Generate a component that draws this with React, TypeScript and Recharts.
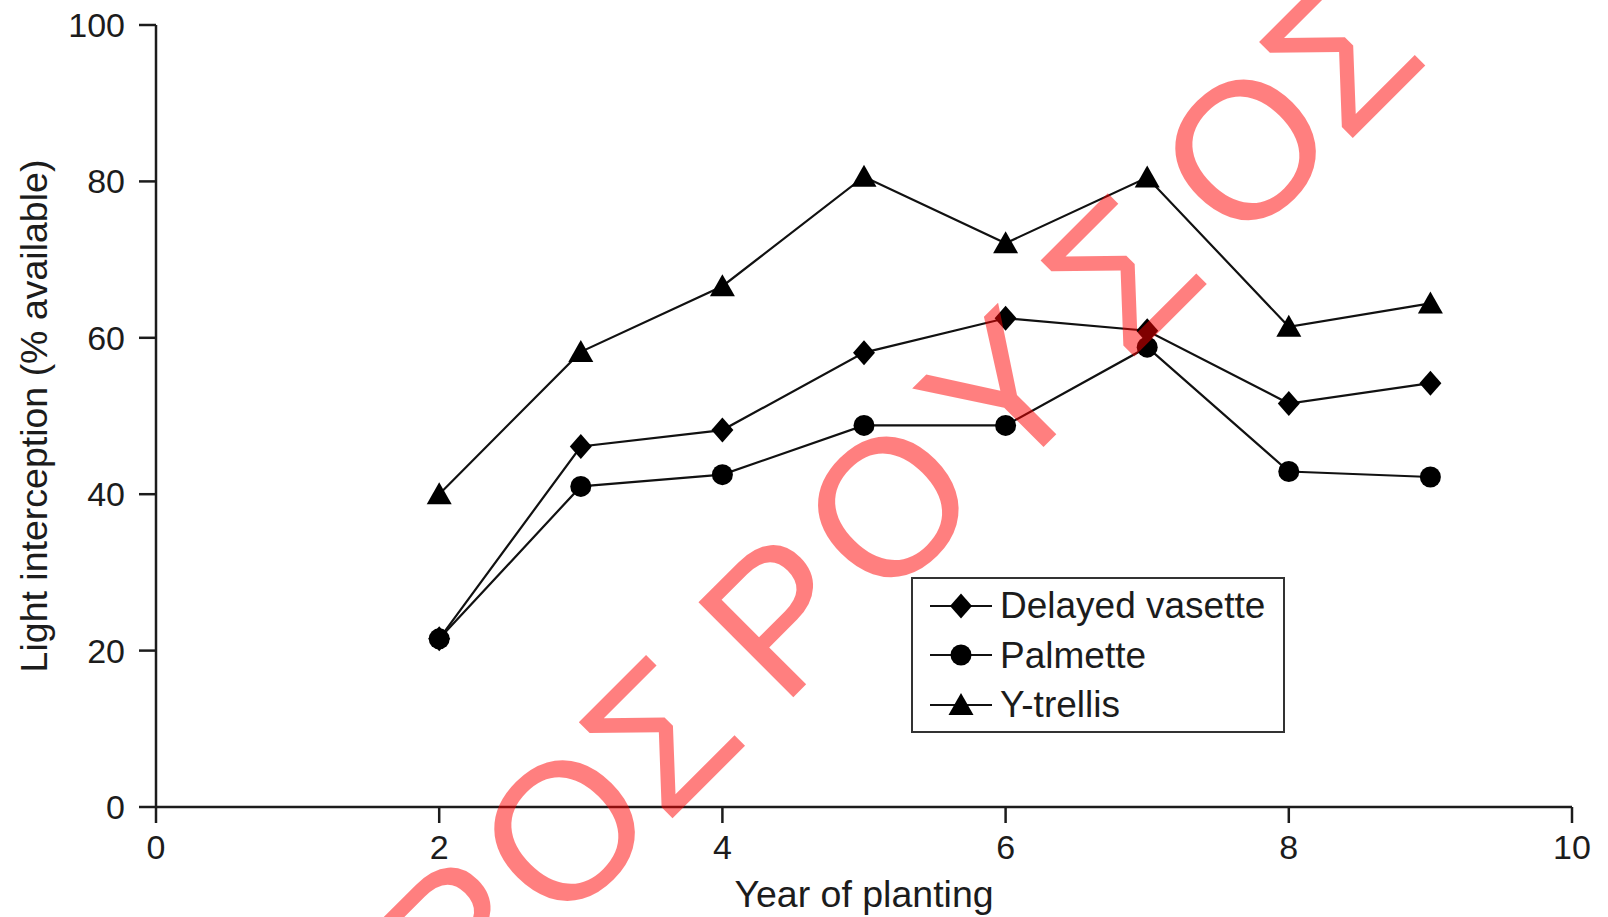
import { LineChart, Line, XAxis, YAxis, Legend } from 'recharts'

const years = [2, 3, 4, 5, 6, 7, 8, 9]
const delayedVasette = [21.5, 46.1, 48.2, 58.1, 62.5, 60.9, 51.6, 54.2]
const palmette = [21.5, 41.0, 42.5, 48.8, 48.8, 58.8, 42.9, 42.2]
const yTrellis = [40.0, 58.2, 66.6, 80.6, 72.1, 80.5, 61.4, 64.4]

const xTicks = [0, 2, 4, 6, 8, 10]
const yTicks = [0, 20, 40, 60, 80, 100]

const seriesNames = ['Delayed vasette', 'Palmette', 'Y-trellis']
const seriesKeys = ['vasette', 'palmette', 'trellis']
const seriesShapes = ['diamond', 'circle', 'triangle']

// stamp letters and their offsets along the diagonal baseline
const stampText = 'ΡΟΣΡΟΥΣΟΣ'
const stampOffsets = [-339, -188, -53, 117, 270, 431, 600, 775, 909]

const FONT = '"Liberation Sans", Arial, Helvetica, sans-serif'
const INK = '#1c1c1c'

const chartData = years.map((year, i) => ({
  year,
  vasette: delayedVasette[i],
  palmette: palmette[i],
  trellis: yTrellis[i],
}))

function Marker({ shape, cx, cy }: { shape: string; cx: number; cy: number }) {
  if (shape === 'circle') return <circle cx={cx} cy={cy} r={10.5} fill="#000" />
  if (shape === 'diamond')
    return <path d={`M${cx},${cy - 12.5}L${cx + 11},${cy}L${cx},${cy + 12.5}L${cx - 11},${cy}Z`} fill="#000" />
  return <path d={`M${cx},${cy - 12}L${cx + 12.5},${cy + 10}L${cx - 12.5},${cy + 10}Z`} fill="#000" />
}

function LegendBox() {
  return (
    <div
      style={{
        boxSizing: 'border-box',
        width: 374,
        height: 156,
        border: '2px solid #333',
        background: '#fff',
        paddingTop: 2,
        paddingLeft: 17,
        fontFamily: FONT,
        fontSize: 37,
        color: INK,
      }}
    >
      {seriesNames.map((name, i) => (
        <div key={name} style={{ display: 'flex', alignItems: 'center', height: 49.5 }}>
          <svg width={62} height={30} style={{ marginRight: 8 }}>
            <line x1={0} y1={15} x2={62} y2={15} stroke="#111" strokeWidth={2} />
            <Marker shape={seriesShapes[i]} cx={31} cy={15} />
          </svg>
          <span style={{ lineHeight: 1 }}>{name}</span>
        </div>
      ))}
    </div>
  )
}

export default function App() {
  return (
    <div style={{ position: 'absolute', left: 0, top: 0, width: 1608, height: 917, background: '#fff' }}>
      <LineChart width={1608} height={917} data={chartData} margin={{ top: 25, right: 36, bottom: 0, left: 0 }}>
        <XAxis
          dataKey="year"
          type="number"
          domain={[0, 10]}
          ticks={xTicks}
          height={110}
          stroke={INK}
          strokeWidth={2.5}
          tickSize={16}
          tickMargin={12}
          tick={{ fill: INK, fontSize: 34, fontFamily: FONT }}
          label={{
            content: (props: any) => {
              const vb = props.viewBox
              return (
                <text x={vb.x + vb.width / 2} y={vb.y + vb.height - 10} textAnchor="middle" fill={INK} fontSize={37.5} fontFamily={FONT}>
                  Year of planting
                </text>
              )
            },
          }}
        />
        <YAxis
          type="number"
          domain={[0, 100]}
          ticks={yTicks}
          width={156}
          stroke={INK}
          strokeWidth={2.5}
          tickSize={17}
          tickMargin={14}
          tick={{ fill: INK, fontSize: 34, fontFamily: FONT }}
          label={{
            content: (props: any) => {
              const vb = props.viewBox
              const x = vb.x + 34
              const y = vb.y + vb.height / 2
              return (
                <text x={x} y={y} transform={`rotate(-90, ${x}, ${y})`} textAnchor="middle" dominantBaseline="central" fill={INK} fontSize={37.5} fontFamily={FONT}>
                  Light interception (% available)
                </text>
              )
            },
          }}
        />
        <Legend
          layout="vertical"
          align="center"
          verticalAlign="middle"
          wrapperStyle={{ left: 911, top: 577, width: 374, height: 156 }}
          content={() => <LegendBox />}
        />
        {seriesKeys.map((key, i) => (
          <Line
            key={key}
            dataKey={key}
            name={seriesNames[i]}
            type="linear"
            stroke="#111"
            strokeWidth={2.2}
            isAnimationActive={false}
            activeDot={false}
            dot={(p: any) => <Marker key={`${key}-${p.index}`} shape={seriesShapes[i]} cx={p.cx} cy={p.cy} />}
          />
        ))}
      </LineChart>
      <svg width={1608} height={917} style={{ position: 'absolute', left: 0, top: 0, pointerEvents: 'none' }}>
        <g transform="rotate(-45)" fill="#ff0000" fillOpacity={0.5} fontSize={195} fontFamily={FONT}>
          {stampText.split('').map((ch, i) => (
            <text key={i} x={stampOffsets[i]} y={1054} textAnchor="middle">
              {ch}
            </text>
          ))}
        </g>
      </svg>
    </div>
  )
}
